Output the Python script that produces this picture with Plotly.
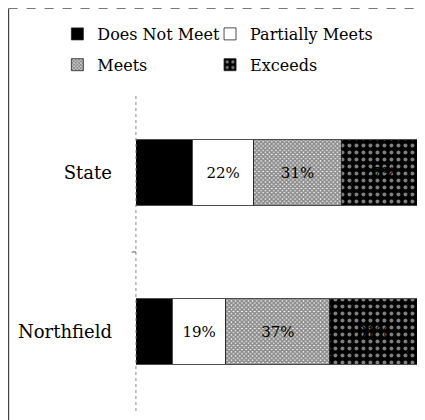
import plotly.graph_objects as go

categories = ["State", "Northfield"]
series_names = ["Does Not Meet", "Partially Meets", "Meets", "Exceeds"]
does_not_meet = [20, 13]
partially_meets = [22, 19]
meets = [31, 37]
exceeds = [27, 31]
values = [does_not_meet, partially_meets, meets, exceeds]

FONT = "DejaVu Serif"

styles = [
    dict(color="black", pattern=None, legend="legend"),
    dict(color="white", pattern=None, legend="legend2"),
    dict(color="white", pattern=dict(shape="x", size=3, solidity=0.8,
                                     fgcolor="#1a1a1a", bgcolor="white"), legend="legend"),
    dict(color="black", pattern=dict(shape=".", size=7, solidity=0.25,
                                     fgcolor="white", bgcolor="black"), legend="legend2"),
]

fig = go.Figure()
for i, (name, vals, st) in enumerate(zip(series_names, values, styles)):
    marker = dict(color=st["color"], line=dict(color="#222222", width=0.8))
    if st["pattern"]:
        marker["pattern"] = st["pattern"]
    fig.add_trace(go.Bar(
        y=categories, x=vals, name=name, orientation="h",
        marker=marker, legend=st["legend"], legendgroup=f"g{i}",
        text=[f"{v}%" for v in vals], textposition="inside",
        insidetextanchor="middle",
        textfont=dict(family=FONT, size=15, color="black"),
        hoverinfo="skip",
    ))

leg_common = dict(orientation="v", yanchor="top", xanchor="left", traceorder="grouped",
                  font=dict(family=FONT, size=16, color="black"),
                  itemwidth=30, tracegroupgap=7, bgcolor="rgba(0,0,0,0)")

fig.update_layout(
    width=425, height=420,
    margin=dict(l=4, r=16, t=4, b=17, autoexpand=False),
    barmode="stack", bargap=0.59,
    plot_bgcolor="white", paper_bgcolor="white",
    font=dict(family=FONT, size=16, color="black"),
    uniformtext=dict(mode="show", minsize=8),
    xaxis=dict(range=[0, 100], visible=False, fixedrange=True, domain=[0.306, 1]),
    yaxis=dict(categoryorder="array", categoryarray=categories, autorange="reversed",
               showline=False, showgrid=False, zeroline=False, ticks="",
               automargin=False, domain=[0, 0.797],
               ticklabelstandoff=23, tickfont=dict(family=FONT, size=18)),
    legend=dict(x=0.112, y=0.9875, **leg_common),
    legend2=dict(x=0.489, y=0.9875, **leg_common),
    shapes=[
        dict(type="line", xref="x domain", yref="y domain", x0=0, x1=0, y0=0, y1=1,
             line=dict(color="#888888", width=1, dash="dot")),
        dict(type="line", xref="x domain", yref="y domain", x0=-0.015, x1=0, y0=0.5, y1=0.5,
             line=dict(color="#555555", width=1)),
        dict(type="line", xref="paper", yref="paper", x0=-0.0084, x1=-0.0084, y0=-0.05, y1=1.0088,
             line=dict(color="#444444", width=1.2)),
        dict(type="line", xref="paper", yref="paper", x0=-0.0084, x1=1.05, y0=1.0088, y1=1.0088,
             line=dict(color="#777777", width=1, dash="dash")),
    ],
)

fig.write_html("out.html")
